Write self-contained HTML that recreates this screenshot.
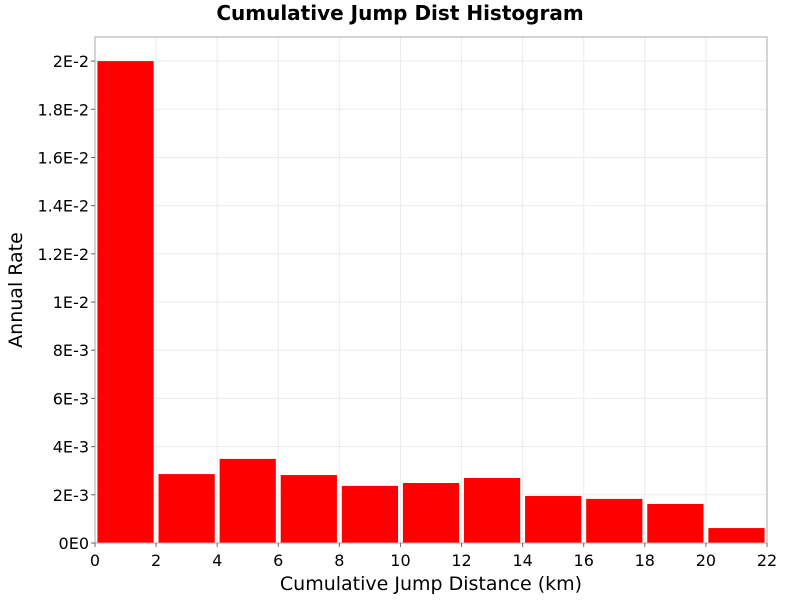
<!DOCTYPE html>
<html><head><meta charset="utf-8"><style>
body{margin:0;background:#fff;font-family:"DejaVu Sans","Liberation Sans",sans-serif}
</style></head><body>
<svg id="c" width="800" height="600" xmlns="http://www.w3.org/2000/svg" font-family="DejaVu Sans, sans-serif">
<text x="400" y="20" text-anchor="middle" font-size="20" font-weight="bold">Cumulative Jump Dist Histogram</text>
<rect x="95" y="37" width="672" height="506" fill="#fff"/>
<g id="grid"></g><g id="bars"></g>
<rect x="95" y="37" width="672" height="506" fill="none" stroke="#aaa"/>
<g id="axes"></g>
<text x="431" y="590" text-anchor="middle" font-size="19">Cumulative Jump Distance (km)</text>
<text transform="translate(22,290) rotate(-90)" text-anchor="middle" font-size="19">Annual Rate</text>
</svg>
<script>
const binCenters=[1,3,5,7,9,11,13,15,17,19,21];
const rates=[0.0200,0.00286,0.00349,0.00282,0.00237,0.00249,0.00270,0.00195,0.00183,0.00162,0.00062];
const xTicks=[0,2,4,6,8,10,12,14,16,18,20,22];
const yTicks=[0,0.002,0.004,0.006,0.008,0.010,0.012,0.014,0.016,0.018,0.020];
const yTickLabels=["0E0","2E-3","4E-3","6E-3","8E-3","1E-2","1.2E-2","1.4E-2","1.6E-2","1.8E-2","2E-2"];
const X0=95,X1=767,Y0=543,Y1=37,xmax=22,ymax=0.021;
const sx=v=>X0+v/xmax*(X1-X0), sy=v=>Y0-v/ymax*(Y0-Y1);
const NS="http://www.w3.org/2000/svg";
function mk(t,a,p){const e=document.createElementNS(NS,t);for(const k in a)e.setAttribute(k,a[k]);p.appendChild(e);return e;}
const g=document.getElementById('grid'),b=document.getElementById('bars'),ax=document.getElementById('axes');
xTicks.forEach((t,i)=>{
 const x=sx(t);
 const l=mk('line',{x1:x,x2:x,y1:Y1,y2:Y0,stroke:'#ebebeb'},g);
 
 
 const k=mk('line',{x1:x,x2:x,y1:Y0,y2:Y0+4,stroke:'#666'},ax);
 
 
 const tx=mk('text',{x:x,y:Y0+23,'text-anchor':'middle','font-size':'16'},ax);
 tx.textContent=t;
 
 
});
yTicks.forEach((t,i)=>{
 const y=sy(t);
 const l=mk('line',{x1:X0,x2:X1,y1:y,y2:y,stroke:'#ebebeb'},g);
 
 
 const k=mk('line',{x1:X0-4,x2:X0,y1:y,y2:y,stroke:'#666'},ax);
 
 
 const tx=mk('text',{x:X0-6,y:y+6,'text-anchor':'end','font-size':'16'},ax);
 tx.textContent=yTickLabels[i];
 
 
});
binCenters.forEach((c,i)=>{
 const l=Math.max(0,c-0.92),r=c+0.92;
 const rc=mk('rect',{x:sx(l),y:sy(rates[i]),width:sx(r)-sx(l),height:Y0-sy(rates[i]),fill:'#ff0000'},b);
 
 
});
</script>
</body></html>
